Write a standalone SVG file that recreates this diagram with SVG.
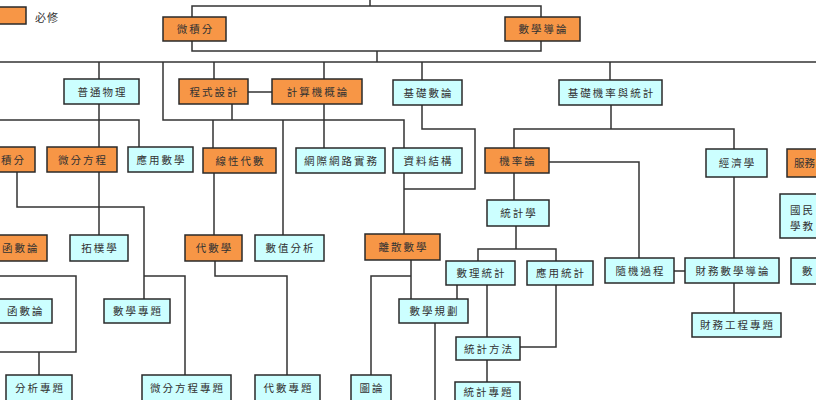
<svg xmlns="http://www.w3.org/2000/svg" width="816" height="400" viewBox="0 0 816 400">
<style>
.o{fill:#F79646;stroke:#2a2a2a;stroke-width:1.5}
.c{fill:#CCFFFF;stroke:#2a2a2a;stroke-width:1.5}
text{font-family:"Noto Sans CJK TC","Noto Sans CJK SC",sans-serif;font-size:10.5px;fill:#333;letter-spacing:2px;text-anchor:middle}
.s{text-anchor:start}
#connectors path{fill:none;stroke:#333;stroke-width:1.5}
</style>
<rect width="816" height="400" fill="#fff"/>
<g id="connectors">
<path d="M192,17V6H541V17M370,0V6"/>
<path d="M192,41V51H541V41M377,51V62"/>
<path d="M0,62H816"/>
<path d="M99,62V79M99,104V147M99,172V235"/>
<path d="M214,62V79"/>
<path d="M324,62V79M324,104V148"/>
<path d="M422,62V80M422,105V129H475V189H404"/>
<path d="M610,62V80"/>
<path d="M163,62V120H404V148M232,104V120M213,120V148M283,120V235"/>
<path d="M0,120H139V147"/>
<path d="M248,92H272"/>
<path d="M214,173V235"/>
<path d="M17,172V207H144V299M144,276H185V375"/>
<path d="M215,261V276H287V375"/>
<path d="M404,173V234"/>
<path d="M411,260V299M411,276H371V375"/>
<path d="M611,105V129M514,148V129H734V149"/>
<path d="M549,162H639V258"/>
<path d="M514,173V200"/>
<path d="M516,226V249M478,261V249H556V261"/>
<path d="M457,285V299M487,285V337M556,285V347H520M487,360V382"/>
<path d="M435,323V400"/>
<path d="M734,177V258M674,271H685M734,283V313"/>
<path d="M0,276H76V352H0M39,352V375"/>
</g>
<g id="legend"><rect class="o" x="-2" y="7" width="28" height="17"/><text class="s" x="35" y="22" style="font-size:11px;letter-spacing:1px">必修</text></g>
<g id="n-weijifen"><rect class="o" x="163" y="17" width="63" height="24"/><text x="195.5" y="33">微積分</text></g>
<g id="n-shuxuedaolun"><rect class="o" x="505" y="17" width="75" height="24"/><text x="543.5" y="33">數學導論</text></g>
<g id="n-putongwuli"><rect class="c" x="64" y="79" width="75" height="25"/><text x="102.5" y="95.5">普通物理</text></g>
<g id="n-chengshisheji"><rect class="o" x="179" y="79" width="69" height="25"/><text x="214.5" y="95.5">程式設計</text></g>
<g id="n-jisuanji"><rect class="o" x="272" y="79" width="90" height="25"/><text x="318" y="95.5">計算機概論</text></g>
<g id="n-jichushulun"><rect class="c" x="393" y="80" width="69" height="25"/><text x="428.5" y="96.5">基礎數論</text></g>
<g id="n-jichugailv"><rect class="c" x="559" y="80" width="103" height="25"/><text x="611.5" y="96.5">基礎機率與統計</text></g>
<g id="n-jifen"><rect class="o" x="-50" y="147" width="85" height="25"/><text class="s" x="1" y="163.5">積分</text></g>
<g id="n-weifenfangcheng"><rect class="o" x="47" y="147" width="70" height="25"/><text x="83" y="163.5">微分方程</text></g>
<g id="n-yingyongshuxue"><rect class="c" x="128" y="147" width="65" height="25"/><text x="161.5" y="163.5">應用數學</text></g>
<g id="n-xianxingdaishu"><rect class="o" x="203" y="148" width="73" height="25"/><text x="240.5" y="164.5">線性代數</text></g>
<g id="n-wangji"><rect class="c" x="296" y="148" width="89" height="25"/><text x="341.5" y="164.5">網際網路實務</text></g>
<g id="n-ziliaojiegou"><rect class="c" x="393" y="148" width="69" height="25"/><text x="428.5" y="164.5">資料結構</text></g>
<g id="n-gailvlun"><rect class="o" x="485" y="148" width="64" height="25"/><text x="518" y="164.5">機率論</text></g>
<g id="n-jingjixue"><rect class="c" x="706" y="149" width="61" height="28"/><text x="737.5" y="167">經濟學</text></g>
<g id="n-fuwu"><rect class="o" x="787" y="149" width="40" height="28"/><text class="s" x="794" y="167" style="letter-spacing:0">服務</text></g>
<g id="n-guomin"><rect class="c" x="780" y="194" width="40" height="44"/><text class="s" x="790" y="214">國民</text><text class="s" x="790" y="230">學教</text></g>
<g id="n-tongjixue"><rect class="c" x="487" y="200" width="62" height="26"/><text x="519" y="217">統計學</text></g>
<g id="n-hanshulun"><rect class="o" x="-40" y="235" width="87" height="26"/><text class="s" x="2" y="252">函數論</text></g>
<g id="n-tuopuxue"><rect class="c" x="70" y="235" width="58" height="26"/><text x="100" y="252">拓樸學</text></g>
<g id="n-daishuxue"><rect class="o" x="185" y="235" width="57" height="26"/><text x="214.5" y="252">代數學</text></g>
<g id="n-shuzhifenxi"><rect class="c" x="255" y="235" width="69" height="26"/><text x="290.5" y="252">數值分析</text></g>
<g id="n-lisanshuxue"><rect class="o" x="365" y="234" width="75" height="26"/><text x="403.5" y="251">離散數學</text></g>
<g id="n-shulitongji"><rect class="c" x="446" y="261" width="69" height="24"/><text x="481.5" y="277">數理統計</text></g>
<g id="n-yingyongtongji"><rect class="c" x="527" y="261" width="66" height="24"/><text x="561" y="277">應用統計</text></g>
<g id="n-suijiguocheng"><rect class="c" x="605" y="258" width="69" height="25"/><text x="640.5" y="274.5">隨機過程</text></g>
<g id="n-caiwushuxue"><rect class="c" x="685" y="258" width="94" height="25"/><text x="733" y="274.5">財務數學導論</text></g>
<g id="n-shu"><rect class="c" x="791" y="258" width="40" height="26"/><text class="s" x="802" y="275">數</text></g>
<g id="n-shibian"><rect class="c" x="-40" y="299" width="92" height="24"/><text class="s" x="7" y="315">函數論</text></g>
<g id="n-shuxuezhuanti"><rect class="c" x="104" y="299" width="66" height="24"/><text x="138" y="315">數學專題</text></g>
<g id="n-shuxueguihua"><rect class="c" x="399" y="299" width="69" height="24"/><text x="434.5" y="315">數學規劃</text></g>
<g id="n-caiwugongcheng"><rect class="c" x="692" y="313" width="89" height="24"/><text x="737.5" y="329">財務工程專題</text></g>
<g id="n-tongjifangfa"><rect class="c" x="456" y="337" width="64" height="23"/><text x="489" y="352.5">統計方法</text></g>
<g id="n-fenxizhuanti"><rect class="c" x="6" y="375" width="66" height="28"/><text x="40" y="391.5">分析專題</text></g>
<g id="n-weifenzhuanti"><rect class="c" x="142" y="375" width="89" height="28"/><text x="187.5" y="391.5">微分方程專題</text></g>
<g id="n-daishuzhuanti"><rect class="c" x="255" y="375" width="65" height="28"/><text x="288.5" y="391.5">代數專題</text></g>
<g id="n-tulun"><rect class="c" x="351" y="375" width="40" height="28"/><text x="372" y="391.5">圖論</text></g>
<g id="n-tongjizhuanti"><rect class="c" x="455" y="382" width="65" height="25"/><text x="488.5" y="396">統計專題</text></g>
</svg>
